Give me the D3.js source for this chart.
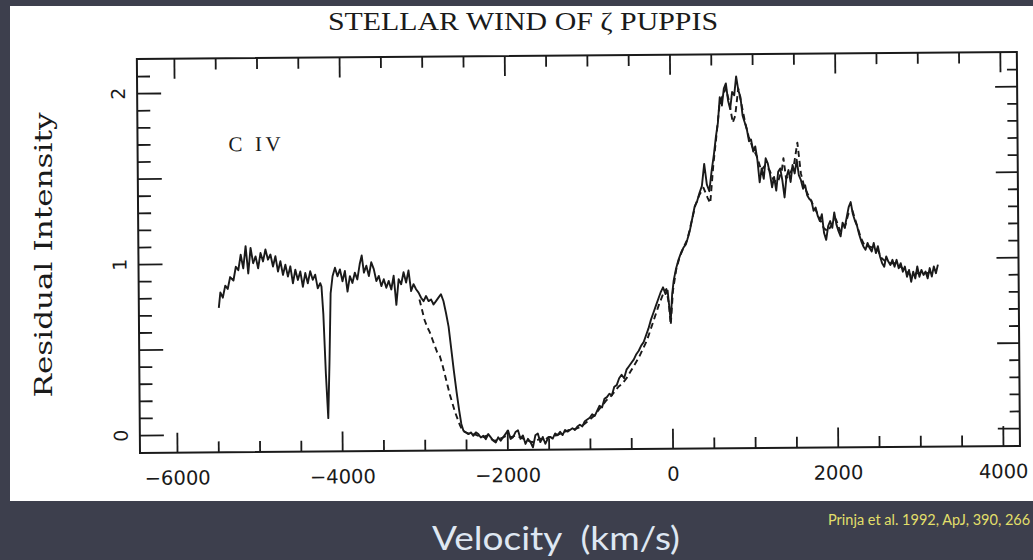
<!DOCTYPE html>
<html>
<head>
<meta charset="utf-8">
<script src="https://cdn.jsdelivr.net/npm/d3@7"></script>
<style>
html,body{margin:0;padding:0;background:#3d3f4d;}
svg{display:block;}
</style>
</head>
<body>
<svg id="chart" width="1033" height="560"></svg>
<script>
// ---------------- data ----------------
const solidVel = [
-5480,-5460,-5430,-5400,-5370,-5340,-5300,-5270,-5240,-5210,-5180,-5150,-5120,-5090,-5060,-5030,-5000,-4970,-4940,-4910,
-4880,-4850,-4820,-4790,-4760,-4730,-4700,-4670,-4640,-4610,-4580,-4550,-4520,-4490,-4460,-4430,-4400,-4370,-4340,-4310,
-4280,-4250,-4235,-4215,-4190,-4165,-4145,-4125,-4100,
-4070,-4040,-4010,-3980,-3950,-3920,-3890,-3860,-3830,-3800,-3770,-3745,-3720,-3690,-3660,-3630,-3600,-3570,-3540,-3510,
-3480,-3450,-3420,-3390,-3360,-3330,-3300,-3270,-3240,-3210,-3180,-3150,-3120,-3090,-3060,-3030,-3000,-2970,-2940,-2910,
-2880,-2850,-2820,-2790,-2760,-2730,-2700,-2670,-2640,-2610,-2580,-2555,-2530,
-2500,-2470,-2440,-2410,-2380,-2350,-2320,-2290,-2260,-2230,-2200,-2170,-2140,-2110,-2080,-2050,-2020,-1990,-1960,-1930,
-1900,-1870,-1840,-1810,-1780,-1750,-1720,-1690,-1660,-1630,-1600,-1570,-1540,-1510,-1480,-1450,-1420,-1390,-1360,-1330,
-1300,-1270,-1240,-1210,-1180,-1150,-1120,-1090,-1060,-1030,
-1000,-970,-940,-910,-880,-850,-820,-790,-760,-730,-700,-670,-640,-610,-580,-550,-520,-490,-460,-430,
-400,-370,-340,-310,-280,-250,-220,-190,-160,-130,-100,-70,-45,-25,-10,10,30,60,90,120,150,180,
200,230,260,290,320,350,380,410,440,470,500,530,555,580,605,630,655,680,705,730,755,780,805,830,855,880,905,930,955,980,
1005,1030,1055,1080,1105,1130,1155,1180,1205,1230,1255,1280,1305,1330,1355,1380,1405,1430,1455,1480,1505,1530,1555,1580,1605,
1630,1655,1680,1705,1730,1755,1780,1805,1830,1855,1880,1905,1930,1955,1980,2005,2030,2055,2080,2105,2130,2155,2180,2205,2230,
2255,2280,2305,2330,2355,2380,2405,2430,2455,2480,2505,2530,2555,2580,2605,2630,2655,2680,2705,2730,2755,2780,2805,2830,2855,
2880,2905,2930,2955,2980,3005,3030,3055,3080,3105,3130,3155,3180,3205,3230
];
const solidInt = [
0.74,0.83,0.80,0.87,0.85,0.92,0.90,0.98,0.96,1.05,0.97,1.10,0.94,1.09,1.00,1.04,0.97,1.06,1.01,1.08,
1.02,1.05,0.98,1.04,0.95,1.01,0.93,0.99,0.92,0.98,0.88,0.96,0.90,0.95,0.86,0.94,0.88,0.95,0.90,0.93,
0.85,0.88,0.86,0.70,0.35,0.09,0.42,0.82,0.92,
0.97,0.92,0.96,0.89,0.95,0.83,0.92,0.88,0.94,0.90,0.99,1.04,0.94,0.98,0.92,1.00,0.96,0.89,0.92,0.86,
0.90,0.85,0.89,0.84,0.92,0.75,0.90,0.87,0.94,0.88,0.95,0.83,0.87,0.84,0.82,0.79,0.77,0.80,0.77,0.78,
0.75,0.77,0.79,0.81,0.77,0.70,0.62,0.49,0.36,0.24,0.13,0.05,0.01,
0.00,-0.01,0.00,-0.02,0.00,-0.01,-0.03,-0.02,-0.04,-0.01,-0.03,-0.05,-0.06,-0.03,-0.05,-0.03,-0.01,0.01,-0.04,-0.03,
0.00,0.01,-0.04,-0.02,-0.07,-0.04,-0.06,-0.09,-0.02,-0.01,-0.06,-0.03,-0.07,-0.04,-0.03,-0.04,-0.01,-0.02,0.00,-0.02,
0.01,0.00,0.01,0.02,0.01,0.03,0.04,0.03,0.06,0.07,
0.08,0.10,0.09,0.12,0.15,0.14,0.19,0.20,0.22,0.21,0.26,0.27,0.31,0.33,0.31,0.36,0.38,0.40,0.42,0.45,
0.47,0.50,0.52,0.56,0.60,0.65,0.69,0.73,0.77,0.81,0.84,0.80,0.82,0.72,0.64,0.80,0.88,0.95,1.00,1.04,1.07,1.09,
1.12,1.17,1.24,1.31,1.34,1.39,1.43,1.56,1.44,1.40,1.52,1.62,1.72,1.80,1.95,1.90,2.00,2.03,1.93,1.88,1.98,1.96,2.07,1.99,1.95,1.84,1.80,1.76,1.69,1.70,
1.63,1.66,1.58,1.45,1.53,1.47,1.59,1.56,1.50,1.42,1.48,1.40,1.51,1.53,1.46,1.36,1.48,1.52,1.45,1.55,1.50,1.58,1.49,1.46,1.41,
1.43,1.37,1.35,1.34,1.28,1.30,1.25,1.22,1.26,1.15,1.11,1.19,1.22,1.18,1.27,1.20,1.16,1.13,1.21,1.18,1.24,1.30,1.33,1.26,1.22,
1.19,1.14,1.10,1.07,1.05,1.09,1.06,1.04,1.09,1.03,1.07,1.01,0.97,0.95,1.01,0.98,0.96,0.99,0.95,0.99,0.94,0.97,0.92,0.95,0.89,
0.93,0.86,0.92,0.88,0.95,0.89,0.93,0.90,0.92,0.88,0.94,0.89,0.95,0.91,0.96
];

const dashVel = [
-3050,-3020,-2990,-2960,-2930,-2900,-2870,-2840,-2810,-2780,-2750,-2720,-2690,-2660,-2630,-2600,-2570,-2540,-2500,-2450,
-2400,-2350,-2300,-2250,-2200,-2150,-2100,-2050,-2000,-1950,-1900,-1850,-1800,-1750,-1700,-1650,-1600,-1550,-1500,-1450,
-1400,-1350,-1300,-1250,-1200,-1150,-1100,-1050,-1000,-950,-900,-850,-800,-750,-700,-650,-600,-550,-500,-450,
-400,-350,-300,-250,-200,-150,-100,-60,-30,-10,20,60,100,150,200,250,300,350,400,450,
480,520,560,600,640,680,720,760,790,830,870,910,950,1000,1050,1100,1150,1200,1250,1300,
1350,1370,1400,1450,1500,1540,1580,1620,1660,1700,1750,1800,1850,1900,1950,2000,2050,2100,2150,2200,
2250,2300,2350,2400,2450,2500,2550,2600,2650,2700,2750,2800,2850,2900,2950,3000,3050,3100,3150,3200
];
const dashInt = [
0.78,0.72,0.66,0.62,0.59,0.55,0.51,0.47,0.45,0.40,0.34,0.28,0.22,0.17,0.12,0.08,0.04,0.01,0.00,-0.01,
-0.01,-0.02,-0.03,-0.02,-0.04,-0.05,-0.04,-0.03,-0.02,-0.03,-0.02,-0.03,-0.04,-0.05,-0.06,-0.05,-0.04,-0.05,-0.03,-0.03,
-0.02,-0.01,0.00,0.01,0.01,0.02,0.03,0.05,0.07,0.09,0.12,0.15,0.18,0.20,0.23,0.26,0.28,0.31,0.35,0.39,
0.43,0.48,0.53,0.60,0.67,0.74,0.80,0.83,0.74,0.62,0.82,0.94,1.01,1.07,1.12,1.22,1.32,1.38,1.42,1.36,
1.33,1.55,1.72,1.90,1.96,2.00,1.92,1.80,1.84,2.00,1.90,1.80,1.72,1.65,1.60,1.52,1.55,1.52,1.46,1.45,
1.52,1.59,1.47,1.50,1.56,1.68,1.50,1.42,1.38,1.34,1.29,1.24,1.18,1.16,1.20,1.23,1.16,1.17,1.26,1.28,
1.20,1.12,1.07,1.07,1.06,1.05,1.00,0.98,0.97,0.97,0.96,0.94,0.92,0.90,0.91,0.91,0.91,0.91,0.92,0.93
];

const xMajorTicks = [-6000,-4000,-2000,0,2000,4000];
const xMinorTicks = [-5500,-5000,-4500,-3500,-3000,-2500,-1500,-1000,-500,500,1000,1500,2500,3000,3500];
const yMajorTicks = [0,0.5,1,1.5,2];
const yLabelTicks = [0,1,2];
const yMinorTicks = [0.1,0.2,0.3,0.4,0.6,0.7,0.8,0.9,1.1,1.2,1.3,1.4,1.6,1.7,1.8,1.9,2.1];

const titleText = "STELLAR WIND OF \u03B6 PUPPIS";
const lineLabel = "C IV";
const yTitle = "Residual Intensity";
const xTitle = "Velocity  (km/s)";
const citation = "Prinja et al. 1992, ApJ, 390, 266";

// ---------------- drawing ----------------
const svg = d3.select("#chart");
svg.append("rect").attr("x",0).attr("y",0).attr("width",1033).attr("height",560).attr("fill","#3d3f4d");
svg.append("rect").attr("x",10).attr("y",6).attr("width",1040).attr("height",495).attr("fill","#ffffff");

const L = 140, R = 1020, T = 59, B = 453;
const x = d3.scaleLinear().domain([-6448, 4206]).range([L, R]);
const y = d3.scaleLinear().domain([-0.105, 2.2]).range([B, T]);

const ink = "#1a1a1a";
const g = svg.append("g").attr("transform", `rotate(-0.456,${L},${B})`);

function styleAxis(sel){
  sel.select(".domain").remove();
  sel.selectAll("line").attr("stroke", ink).attr("stroke-width", 1.8);
}

// bottom
g.append("g").attr("transform",`translate(0,${B})`)
  .call(d3.axisBottom(x).tickValues(xMinorTicks).tickSize(-11).tickFormat(""))
  .call(styleAxis);
const xb = g.append("g").attr("transform",`translate(0,${B})`)
  .call(d3.axisBottom(x).tickValues(xMajorTicks).tickSize(-20)
        .tickFormat(d => d < 0 ? "\u2212" + Math.abs(d) : String(d)))
  .call(styleAxis);
xb.selectAll("text").attr("y", 32).attr("dy", null)
  .attr("font-family","DejaVu Sans, sans-serif").attr("font-size", 19.5).attr("fill", ink);
// top
g.append("g").attr("transform",`translate(0,${T})`)
  .call(d3.axisTop(x).tickValues(xMinorTicks).tickSize(-11).tickFormat(""))
  .call(styleAxis);
g.append("g").attr("transform",`translate(0,${T})`)
  .call(d3.axisTop(x).tickValues(xMajorTicks).tickSize(-20).tickFormat(""))
  .call(styleAxis);
// left
g.append("g").attr("transform",`translate(${L},0)`)
  .call(d3.axisLeft(y).tickValues(yMinorTicks).tickSize(-13).tickFormat(""))
  .call(styleAxis);
g.append("g").attr("transform",`translate(${L},0)`)
  .call(d3.axisLeft(y).tickValues(yMajorTicks).tickSize(-24).tickFormat(""))
  .call(styleAxis);
const yl = g.append("g").attr("transform",`translate(${L},0)`)
  .call(d3.axisLeft(y).tickValues(yLabelTicks).tickSize(0).tickFormat(d3.format("d")))
  .call(styleAxis);
yl.selectAll("text").attr("x", null).attr("dy", "0.36em")
  .attr("transform","translate(-19,0) rotate(-90)")
  .attr("text-anchor","middle")
  .attr("font-family","DejaVu Sans, sans-serif").attr("font-size", 19).attr("fill", ink);
// right
g.append("g").attr("transform",`translate(${R},0)`)
  .call(d3.axisRight(y).tickValues(yMinorTicks).tickSize(-10).tickFormat(""))
  .call(styleAxis);
g.append("g").attr("transform",`translate(${R},0)`)
  .call(d3.axisRight(y).tickValues(yMajorTicks).tickSize(-22).tickFormat(""))
  .call(styleAxis);

// frame
g.append("rect").attr("x",L).attr("y",T).attr("width",R-L).attr("height",B-T)
  .attr("fill","none").attr("stroke",ink).attr("stroke-width",2);

// curves
const line = d3.line().x(d => x(d[0])).y(d => y(d[1]));
g.append("path").datum(d3.zip(dashVel, dashInt)).attr("d", line)
  .attr("fill","none").attr("stroke",ink).attr("stroke-width",1.9)
  .attr("stroke-dasharray","6,4").attr("stroke-linejoin","round");
g.append("path").datum(d3.zip(solidVel, solidInt)).attr("d", line)
  .attr("fill","none").attr("stroke",ink).attr("stroke-width",1.9)
  .attr("stroke-linejoin","round");

// C IV label
g.append("text").attr("x", 231).attr("y", 152).text(lineLabel)
  .attr("font-family","Liberation Serif, serif").attr("font-size", 21)
  .attr("textLength", 52).attr("lengthAdjust","spacing").attr("fill", ink);

// title
svg.append("text").attr("x", 523).attr("y", 30).attr("text-anchor","middle")
  .attr("font-family","Liberation Serif, serif").attr("font-size", 25)
  .attr("textLength", 390).attr("lengthAdjust","spacingAndGlyphs")
  .attr("fill", ink).text(titleText);

// y title
svg.append("text").attr("transform","translate(52,255) rotate(-90)")
  .attr("text-anchor","middle")
  .attr("font-family","DejaVu Serif, serif").attr("font-size", 25)
  .attr("textLength", 285).attr("lengthAdjust","spacingAndGlyphs")
  .attr("fill", ink).text(yTitle);

// x title (on dark band)
svg.append("text").attr("x", 556).attr("y", 550).attr("text-anchor","middle")
  .attr("font-family","Lato, Open Sans, sans-serif").attr("font-size", 32)
  .attr("textLength", 248).attr("lengthAdjust","spacingAndGlyphs")
  .attr("fill","#dfe7f2").attr("style","white-space:pre")
  .text(xTitle);

// citation
svg.append("text").attr("x", 828).attr("y", 525)
  .attr("font-family","Lato, Open Sans, sans-serif").attr("font-size", 14.5)
  .attr("fill","#e2df6a").text(citation);
</script>
</body>
</html>
